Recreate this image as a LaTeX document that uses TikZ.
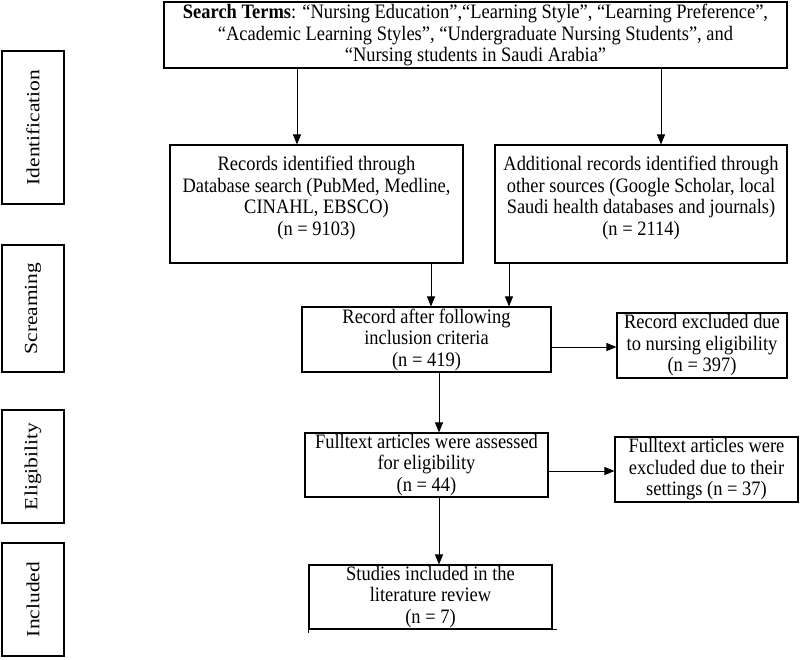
\documentclass[tikz,border=0pt]{standalone}
\usepackage{fontspec}
\setmainfont{Liberation Serif}[FakeStretch=0.9]
\newfontfamily\sidefont{Liberation Serif}[FakeStretch=1.16]
\usetikzlibrary{arrows.meta}
\newcommand{\fsz}{\fontsize{20.5}{21.5}\selectfont}
\newcommand{\sfsz}{\sidefont\fontsize{18.5}{20}\selectfont}
\begin{document}
\begin{tikzpicture}[x=1pt,y=-1pt,
  box/.style={draw, line width=1.1pt, align=center, inner sep=1pt, font=\fsz},
  sidebox/.style={draw, line width=1.1pt, rotate=90, inner sep=1pt, minimum height=62pt, font=\sfsz},
  arr/.style={line width=0.9pt, -{Triangle[length=10pt,width=8pt]}},
  ln/.style={line width=1.1pt}]
\useasboundingbox (0,0) rectangle (800,659);
% stage labels
\node[sidebox, minimum width=153pt] (ident) at (33,127.5) {Identification};
\node[sidebox, minimum width=127pt] (scream) at (33,308.5) {Screaming};
\node[sidebox, minimum width=113pt] (elig) at (33,466.5) {Eligibility};
\node[sidebox, minimum width=113pt] (incl) at (33,599.5) {Included};
% main boxes
\node[box, minimum width=623pt, minimum height=66pt] (search) at (475.5,35)
  {\textbf{Search Terms}: “Nursing Education”,“Learning Style”, “Learning Preference”,\\
   “Academic Learning Styles”, “Undergraduate Nursing Students”, and\\
   “Nursing students in Saudi Arabia”};
\node[box, minimum width=293pt, minimum height=118pt] (rec1) at (316.5,204)
  {Records identified through\\ Database search (PubMed, Medline,\\ CINAHL, EBSCO)\\ (n = 9103)\\[-5.5pt]};
\node[box, minimum width=292pt, minimum height=118pt] (rec2) at (641,204)
  {Additional records identified through\\ other sources (Google Scholar, local\\ Saudi health databases and journals)\\ (n = 2114)\\[-5.5pt]};
\node[box, minimum width=249pt, minimum height=65pt] (after) at (426.5,339.5)
  {Record after following\\ inclusion criteria\\ (n = 419)};
\node[box, minimum width=170pt, minimum height=65pt] (excl1) at (702,345.5)
  {Record excluded due\\ to nursing eligibility\\ (n = 397)};
\node[box, minimum width=243pt, minimum height=64pt] (full) at (426.5,465)
  {Fulltext articles were assessed\\ for eligibility\\ (n = 44)};
\node[box, minimum width=183pt, minimum height=65pt] (excl2) at (706.5,469.5)
  {Fulltext articles were\\ excluded due to their\\ settings (n = 37)};
\node[box, minimum width=243pt, minimum height=64pt] (stud) at (430.5,597)
  {Studies included in the\\ literature review\\ (n = 7)};
% small overhangs of the last box outline
\draw[ln] (stud.south west) -- ++(0,3);
\draw[ln] (stud.south east) -- ++(4,0);
% connector x/y positions
\coordinate (xa) at (297,0);
\coordinate (xb) at (661,0);
\coordinate (xc) at (431,0);
\coordinate (xd) at (509,0);
\coordinate (xe) at (439,0);
\coordinate (ya) at (0,347);
\coordinate (yb) at (0,471);
% connectors
\draw[arr] (search.south -| xa) -- (rec1.north -| xa);
\draw[arr] (search.south -| xb) -- (rec2.north -| xb);
\draw[arr] (rec1.south -| xc) -- (after.north -| xc);
\draw[arr] (rec2.south -| xd) -- (after.north -| xd);
\draw[arr] (after.east |- ya) -- (excl1.west |- ya);
\draw[arr] (after.south -| xe) -- (full.north -| xe);
\draw[arr] (full.east |- yb) -- (excl2.west |- yb);
\draw[arr] (full.south -| xe) -- (stud.north -| xe);
\end{tikzpicture}
\end{document}
